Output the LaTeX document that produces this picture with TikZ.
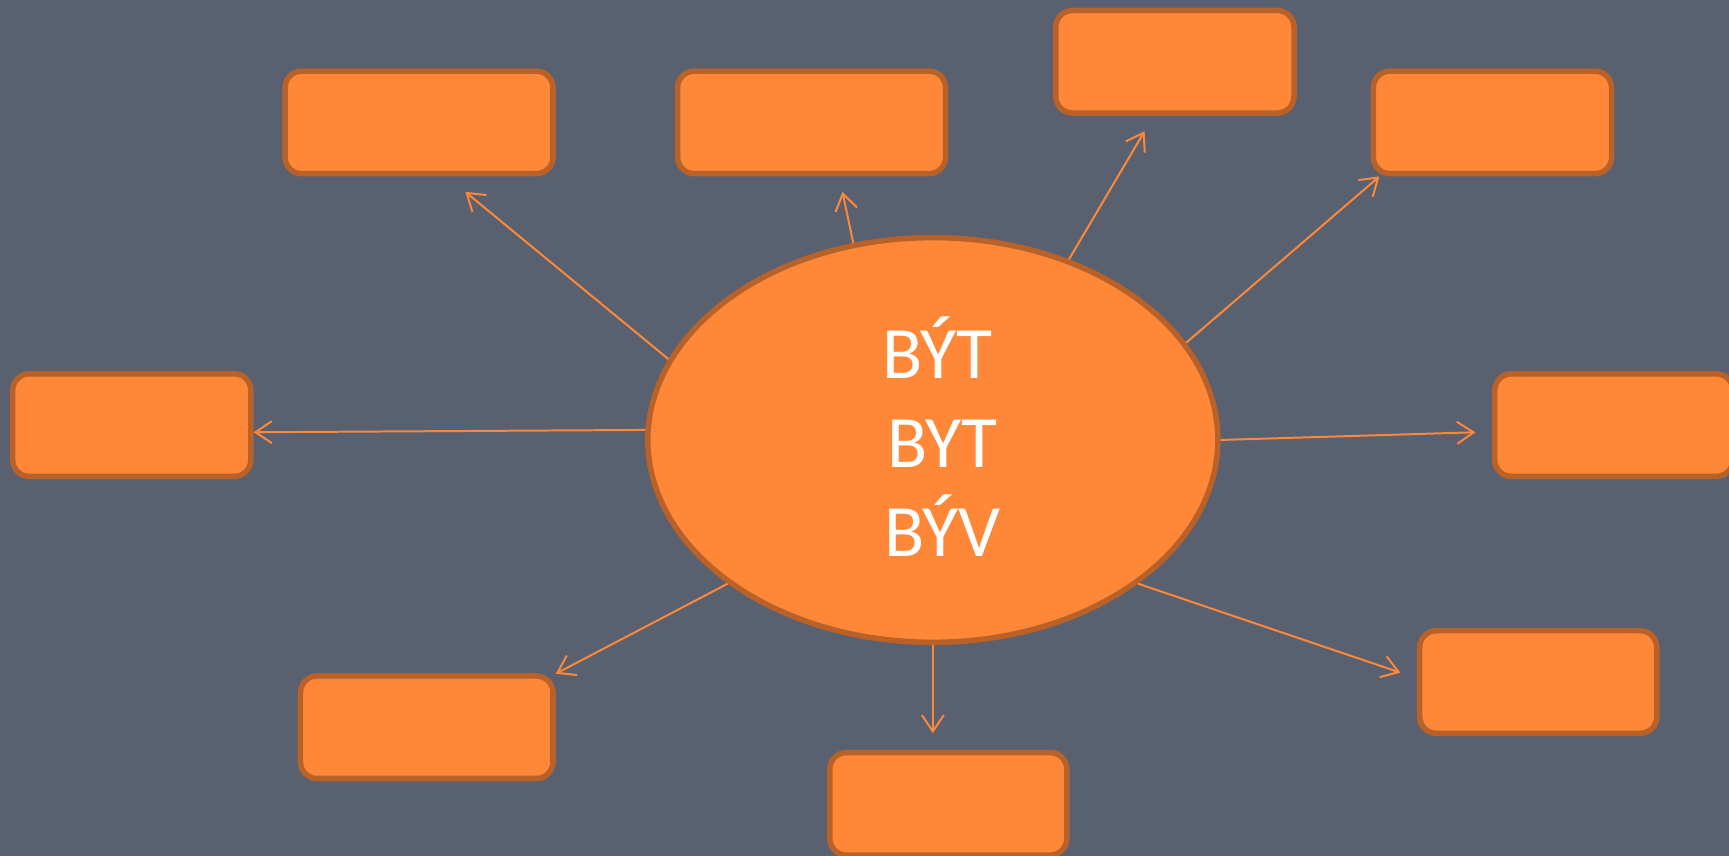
\documentclass[tikz,border=0pt]{standalone}
\usepackage{fontspec}
\setmainfont{Carlito}
\usepackage{tikz}
\usetikzlibrary{shapes.geometric, arrows.meta}

\definecolor{slate}{HTML}{596070}
\definecolor{orangefill}{HTML}{FF8838}
\definecolor{orangeedge}{HTML}{B8622A}

\begin{document}
\begin{tikzpicture}[x=1pt, y=-1pt,
    box/.style={rectangle, rounded corners=15pt, draw=orangeedge, line width=5pt, fill=orangefill, inner sep=0pt, minimum height=93pt},
    core/.style={ellipse, draw=orangeedge, line width=5pt, fill=orangefill, inner sep=0pt, minimum width=517pt, minimum height=367pt},
    link/.style={draw=orangefill, line width=1.8pt, -{Straight Barb[length=15pt, width=20pt]}}]
					\useasboundingbox (0,0) rectangle (1568,776);
					\clip (0,0) rectangle (1568,776);
					\fill[slate] (0,0) rectangle (1568,776);

					\node[core] (c) at (846,399) {};
					\node[text=white, align=center, font=\fontsize{67}{81}\selectfont] (lbl) at (855,396) {BÝT\hspace*{10pt}\\ BYT\\ BÝV};

					\foreach \n/\x/\y/\w in {b1/380/111/243, b2/736/111/243, b3/1065.5/56/216, b4/1353.5/111/216,
						b5/119.5/385.5/216, b6/1463.5/385.5/216, b7/1395/618.5/215, b8/387/659.5/229, b9/860/729/215} {
						\node[box, minimum width=\w pt] (\n) at (\x,\y) {};
					}

					\foreach \a/\tx/\ty [count=\i] in {163.1/422/174, 112.4/764/174, 53.3/1038/119, 21.8/1251/160,
						178.5/230/392, 0/1338/392, -35.5/1270/610, 215.5/504/611, 270/846/665} {
						\coordinate (t\i) at (\tx,\ty);
						\draw[link] (c.\a) -- (t\i);
					}
				\end{tikzpicture}
\end{document}
